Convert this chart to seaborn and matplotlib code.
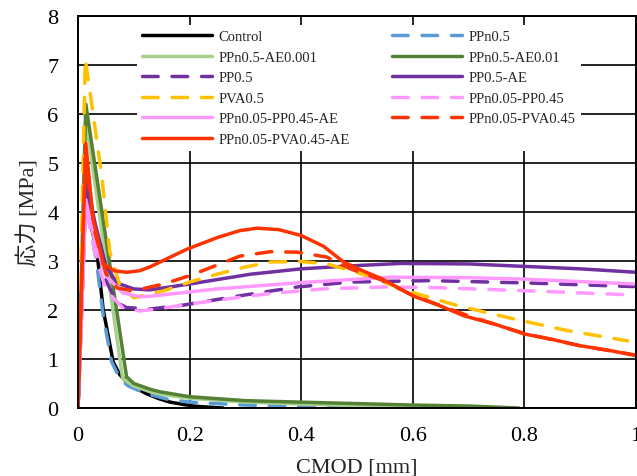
import pandas as pd
import seaborn as sns
import matplotlib.pyplot as plt

# CMOD [mm] / stress [MPa]
control_x = [0, 0.012, 0.02, 0.034, 0.045, 0.063, 0.075, 0.087, 0.105, 0.123, 0.145, 0.165, 0.19, 0.207, 0.23, 0.26]
control_y = [0, 4.5, 3.9, 3.18, 2.02, 0.94, 0.68, 0.53, 0.4, 0.29, 0.19, 0.12, 0.07, 0.04, 0.02, 0.0]

ppn05_x = [0, 0.012, 0.02, 0.033, 0.045, 0.06, 0.075, 0.09, 0.12, 0.16, 0.2, 0.3, 0.4, 0.5, 0.6]
ppn05_y = [0, 4.4, 3.8, 3.0, 1.9, 0.95, 0.6, 0.45, 0.3, 0.18, 0.12, 0.06, 0.03, 0.02, 0.0]

ppn05_ae001_x = [0, 0.014, 0.08, 0.1, 0.13, 0.16, 0.2, 0.3, 0.4, 0.5, 0.6]
ppn05_ae001_y = [0, 5.9, 0.6, 0.45, 0.33, 0.26, 0.2, 0.12, 0.08, 0.05, 0.02]

ppn05_ae01_x = [0, 0.014, 0.087, 0.1, 0.13, 0.147, 0.2, 0.25, 0.3, 0.43, 0.5, 0.6, 0.7, 0.79]
ppn05_ae01_y = [0, 6.2, 0.64, 0.5, 0.38, 0.33, 0.23, 0.19, 0.15, 0.11, 0.09, 0.06, 0.04, 0.0]

pp05_x = [0, 0.015, 0.03, 0.05, 0.07, 0.087, 0.129, 0.189, 0.29, 0.393, 0.488, 0.632, 0.81, 0.99, 1.0]
pp05_y = [0, 4.6, 3.6, 2.6, 2.15, 2.05, 2.02, 2.1, 2.29, 2.47, 2.57, 2.6, 2.55, 2.48, 2.48]

pp05_ae_x = [0, 0.015, 0.03, 0.05, 0.07, 0.1, 0.129, 0.2, 0.309, 0.4, 0.488, 0.578, 0.7, 0.8, 0.9, 1.0]
pp05_ae_y = [0, 4.7, 3.8, 2.9, 2.55, 2.43, 2.41, 2.53, 2.73, 2.84, 2.9, 2.95, 2.94, 2.89, 2.84, 2.77]

pva05_x = [0, 0.013, 0.0215, 0.0425, 0.057, 0.075, 0.1, 0.153, 0.2, 0.249, 0.297, 0.345, 0.399, 0.446, 0.5, 0.59, 0.68, 0.78, 0.877, 0.985]
pva05_y = [0, 7.12, 6.45, 4.74, 3.18, 2.5, 2.25, 2.39, 2.57, 2.73, 2.87, 2.98, 2.99, 2.94, 2.77, 2.39, 2.09, 1.82, 1.58, 1.37]

ppn_pp_x = [0, 0.014, 0.03, 0.05, 0.08, 0.111, 0.141, 0.243, 0.339, 0.44, 0.548, 0.632, 0.81, 0.99, 1.0]
ppn_pp_y = [0, 4.1, 3.2, 2.4, 2.05, 1.98, 2.02, 2.19, 2.33, 2.43, 2.47, 2.46, 2.39, 2.31, 2.31]

ppn_pp_ae_x = [0, 0.014, 0.03, 0.05, 0.08, 0.111, 0.129, 0.249, 0.4, 0.56, 0.7, 0.8, 1.0]
ppn_pp_ae_y = [0, 4.25, 3.4, 2.7, 2.35, 2.27, 2.28, 2.43, 2.56, 2.67, 2.66, 2.63, 2.53]

ppn_pva_x = [0, 0.013, 0.03, 0.05, 0.07, 0.099, 0.153, 0.2, 0.25, 0.29, 0.345, 0.393, 0.446, 0.488, 0.542, 0.6, 0.7, 0.8, 0.9, 1.0]
ppn_pva_y = [0, 5.1, 3.6, 2.75, 2.45, 2.39, 2.53, 2.7, 2.92, 3.1, 3.19, 3.18, 3.08, 2.84, 2.62, 2.3, 1.88, 1.52, 1.27, 1.08]

ppn_pva_ae_x = [0, 0.014, 0.027, 0.045, 0.065, 0.087, 0.11, 0.129, 0.16, 0.195, 0.25, 0.29, 0.321, 0.36, 0.4, 0.44,
                0.476, 0.51, 0.542, 0.578, 0.6, 0.65, 0.692, 0.75, 0.8, 0.85, 0.9, 0.95, 1.0]
ppn_pva_ae_y = [0, 5.4, 3.86, 2.94, 2.8, 2.77, 2.8, 2.88, 3.05, 3.24, 3.48, 3.62, 3.67, 3.64, 3.52, 3.3,
                2.98, 2.8, 2.65, 2.43, 2.29, 2.08, 1.88, 1.7, 1.51, 1.4, 1.27, 1.18, 1.07]

dash = (0, (4.5, 4))
series = [
    ('Control', control_x, control_y, 'black', '-'),
    ('PPn0.5', ppn05_x, ppn05_y, '#5B9BD5', dash),
    ('PPn0.5-AE0.001', ppn05_ae001_x, ppn05_ae001_y, '#A9D18E', '-'),
    ('PPn0.5-AE0.01', ppn05_ae01_x, ppn05_ae01_y, '#548235', '-'),
    ('PP0.5', pp05_x, pp05_y, '#7030A0', dash),
    ('PP0.5-AE', pp05_ae_x, pp05_ae_y, '#7030A0', '-'),
    ('PVA0.5', pva05_x, pva05_y, '#FFC000', dash),
    ('PPn0.05-PP0.45', ppn_pp_x, ppn_pp_y, '#FF99FF', dash),
    ('PPn0.05-PP0.45-AE', ppn_pp_ae_x, ppn_pp_ae_y, '#FF99FF', '-'),
    ('PPn0.05-PVA0.45', ppn_pva_x, ppn_pva_y, '#FF3300', dash),
    ('PPn0.05-PVA0.45-AE', ppn_pva_ae_x, ppn_pva_ae_y, '#FF3300', '-'),
]

sns.set_style('white')
plt.rcParams['font.family'] = ['Liberation Serif', 'Noto Sans CJK JP']

fig = plt.figure(figsize=(6.37, 4.77), dpi=100)
ax = fig.add_axes([78 / 637, 68 / 477, 558 / 637, 392 / 477])

for name, xs, ys, col, ls in series:
    df = pd.DataFrame({'x': xs, 'y': ys})
    sns.lineplot(data=df, x='x', y='y', ax=ax, color=col, linestyle=ls, linewidth=2.5,
                 sort=False, estimator=None, label=name, dash_capstyle='round',
                 solid_capstyle='round')

ax.set_xlim(0, 1)
ax.set_ylim(0, 8)
ax.set_xticks([0, 0.2, 0.4, 0.6, 0.8, 1.0])
ax.set_xticklabels(['0', '0.2', '0.4', '0.6', '0.8', '1'])
ax.set_yticks(range(0, 9))
ax.grid(True, color='black', linewidth=1.2)
ax.set_axisbelow(True)
for s in ax.spines.values():
    s.set_color('black')
    s.set_linewidth(1.4)
ax.tick_params(axis='both', length=0, labelsize=16, colors='black')
ax.tick_params(axis='x', pad=13)
ax.tick_params(axis='y', pad=14)
ax.set_xlabel('CMOD [mm]', fontsize=16, labelpad=9)
ax.set_ylabel('応力 [MPa]', fontsize=16, labelpad=6)

h, l = ax.get_legend_handles_labels()
order = [0, 2, 4, 6, 8, 10, 1, 3, 5, 7, 9]
leg = ax.legend([h[i] for i in order], [l[i] for i in order], ncol=2, loc='upper left',
                bbox_to_anchor=(0.092, 0.996), fontsize=10.5, handlelength=4.8,
                handletextpad=0.45, columnspacing=2.9, labelspacing=0.5,
                borderpad=0.35, frameon=True, fancybox=False, framealpha=1)
leg.get_frame().set_facecolor('white')
leg.get_frame().set_edgecolor('none')

fig.savefig('out.png', dpi=100)
